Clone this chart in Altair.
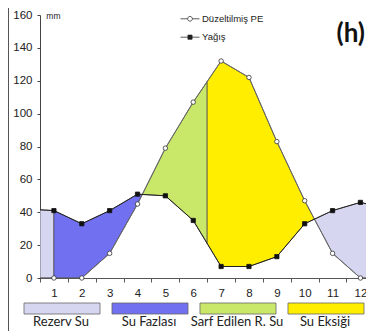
import altair as alt
import pandas as pd

# ---- data ----
months = list(range(1, 13))
pe = [0, 0, 15, 45, 79, 107, 132, 122, 83, 47, 15, 0]          # Düzeltilmiş PE
yagis = [41, 33, 41, 51, 50, 35, 7, 7, 13, 33, 41, 46]          # Yağış
edge_x = [0.5, 12.5]
edge_pe = [0, 0]
edge_yagis = [41.5, 44]

series_names = ["Düzeltilmiş PE", "Yağış"]
region_names = ["Rezerv Su", "Su Fazlası", "Sarf Edilen R. Su", "Su Eksiği"]
region_colors = ["#d6d6f0", "#7070f0", "#c9e86a", "#ffee00"]
surplus_start = 1
reserve_end = 6.5

# ---- build curves ----
xs = [edge_x[0]] + months + [edge_x[1]]
P = [edge_yagis[0]] + yagis + [edge_yagis[1]]
E = [edge_pe[0]] + pe + [edge_pe[1]]


def interp(x, ys):
    for i in range(len(xs) - 1):
        if xs[i] <= x <= xs[i + 1]:
            t = (x - xs[i]) / (xs[i + 1] - xs[i])
            return ys[i] + t * (ys[i + 1] - ys[i])
    return ys[-1]


cross = []
for i in range(len(xs) - 1):
    d0, d1 = P[i] - E[i], P[i + 1] - E[i + 1]
    if d0 * d1 < 0:
        t = d0 / (d0 - d1)
        cross.append(xs[i] + t * (xs[i + 1] - xs[i]))

segments = [
    ("Rezerv Su", edge_x[0], surplus_start),
    ("Su Fazlası", surplus_start, cross[0]),
    ("Sarf Edilen R. Su", cross[0], reserve_end),
    ("Su Eksiği", reserve_end, cross[1]),
    ("Rezerv Su", cross[1], edge_x[1]),
]
rows = []
for k, (name, a, b) in enumerate(segments):
    pts = [a] + [x for x in xs if a < x < b] + [b]
    for x in pts:
        rows.append({"x": x, "p": interp(x, P), "e": interp(x, E),
                     "region": name, "seg": "s%d" % k})
area_df = pd.DataFrame(rows)

line_rows = []
for x, p, e in zip(xs, P, E):
    line_rows.append({"x": x, "v": e, "seri": series_names[0]})
    line_rows.append({"x": x, "v": p, "seri": series_names[1]})
line_df = pd.DataFrame(line_rows)

pe_pts = pd.DataFrame({"x": months, "v": pe, "seri": series_names[0]})
yg_pts = pd.DataFrame({"x": months, "v": yagis, "seri": series_names[1]})

leg_df = pd.DataFrame({"region": region_names})

x_lo, x_hi = 0.5, 12.2          # visible part of the month axis
W, H = 326, 263
step = W / (x_hi - x_lo)

xscale = alt.Scale(domain=[x_lo, x_hi], nice=False, zero=False)
yscale = alt.Scale(domain=[0, 160], nice=False)

xaxis = alt.Axis(values=months, tickOffset=-step / 2, labelOffset=step / 2,
                 grid=False, title=None, tickSize=4, labelPadding=5, labelOverlap=False,
                 labelFlush=False, labelBound=False,
                 domainColor="#555", tickColor="#555", labelColor="#222",
                 labelFont="Liberation Sans", labelFontSize=11.5)
yaxis = alt.Axis(values=[0, 20, 40, 60, 80, 100, 120, 140, 160], grid=False, labelOverlap=False,
                 labelFlush=False, labelBound=False,
                 title="mm", titleAngle=0, titleX=20, titleY=0, titleAlign="right",
                 titleBaseline="middle", titleFontSize=8.5, titleFontWeight="normal",
                 titleFont="Liberation Sans", titleColor="#222",
                 tickSize=3, labelPadding=5, domainColor="#444", tickColor="#444",
                 labelColor="#222", labelFont="Liberation Sans", labelFontSize=11.5)

color_scale = alt.Scale(domain=region_names, range=region_colors)

areas = alt.Chart(area_df).mark_area(stroke="#444", strokeWidth=0.7, opacity=1,
                                     orient="vertical", clip=True).encode(
    x=alt.X("x:Q", scale=xscale, axis=xaxis),
    y=alt.Y("p:Q", scale=yscale, axis=yaxis),
    y2="e:Q",
    color=alt.Color("region:N", scale=color_scale, legend=None),
    detail="seg:N",
)

lines = alt.Chart(line_df).mark_line(strokeWidth=1, clip=True).encode(
    x=alt.X("x:Q", scale=xscale, axis=xaxis),
    y=alt.Y("v:Q", scale=yscale, axis=yaxis),
    stroke=alt.Stroke("seri:N", scale=alt.Scale(domain=series_names, range=["#666", "#222"]), legend=None),
    detail="seri:N",
)

pe_path = "M-1,0H-0.25M0.25,0H1M0.25,0A0.25,0.25,0,1,1,-0.25,0A0.25,0.25,0,1,1,0.25,0"
yg_path = "M-1,0H1M-0.22,-0.22H0.22V0.22H-0.22Z"


def leg(path, ly):
    return alt.Legend(orient="none", legendX=140, legendY=ly, title=None, padding=0,
                      symbolType=path, symbolSize=361, symbolStrokeColor="#333",
                      symbolStrokeWidth=0.8, symbolOpacity=1, labelOffset=2,
                      labelFont="Liberation Sans", labelFontSize=9.5, labelColor="#222")


points_pe = alt.Chart(pe_pts).mark_point(shape="circle", filled=True, size=20, strokeWidth=0.8, opacity=1).encode(
    x=alt.X("x:Q", scale=xscale, axis=xaxis),
    y=alt.Y("v:Q", scale=yscale, axis=yaxis),
    fill=alt.Fill("seri:N", scale=alt.Scale(domain=[series_names[0]], range=["#ffffff"]),
                  legend=leg(pe_path, -6.2)),
    stroke=alt.value("#333"),
)
points_yg = alt.Chart(yg_pts).mark_point(shape="square", filled=True, size=18, strokeWidth=0.8, opacity=1).encode(
    x=alt.X("x:Q", scale=xscale, axis=xaxis),
    y=alt.Y("v:Q", scale=yscale, axis=yaxis),
    fill=alt.Fill("seri:N", scale=alt.Scale(domain=[series_names[1]], range=["#111111"]),
                  legend=leg(yg_path, 12.2)),
    stroke=alt.value("#111"),
)

frame = alt.Chart(pd.DataFrame({"a": [0]})).mark_rule(color="#555", strokeWidth=1).encode(
    x=alt.value(-31.5), y=alt.value(-7), y2=alt.value(316))

label_h = alt.Chart(pd.DataFrame({"t": ["(h)"]})).mark_text(
    font="Lato", fontSize=26, fontWeight="bold", align="right", baseline="middle", color="#111"
).encode(text="t:N", x=alt.value(325), y=alt.value(19))

main = alt.layer(areas, lines, points_pe, points_yg, frame, label_h).resolve_scale(fill="independent")

bx = alt.X("region:N", scale=alt.Scale(domain=region_names, range=[-16, 324],
                                       paddingInner=0.136, paddingOuter=0), axis=None)
boxes = alt.Chart(leg_df).mark_bar(stroke="#666", strokeWidth=0.8, opacity=1).encode(
    x=bx, y=alt.value(288), y2=alt.value(299),
    color=alt.Color("region:N", scale=color_scale, legend=None),
)
box_labels = alt.Chart(leg_df).mark_text(
    font="Lato", fontSize=13, baseline="middle", color="#222", dx=-1
).encode(x=bx, y=alt.value(307), text="region:N")

legend_layer = alt.layer(boxes, box_labels)

chart = alt.layer(main, legend_layer).resolve_scale(x="independent").properties(
    width=W, height=H,
    autosize=alt.AutoSizeParams(type="none"),
    padding={"left": 32, "top": 7, "right": 0, "bottom": 56},
).configure_view(stroke=None).configure_axis(labelOverlap=False)

chart.save("out.html", embed_options={"renderer": "svg", "actions": False})
